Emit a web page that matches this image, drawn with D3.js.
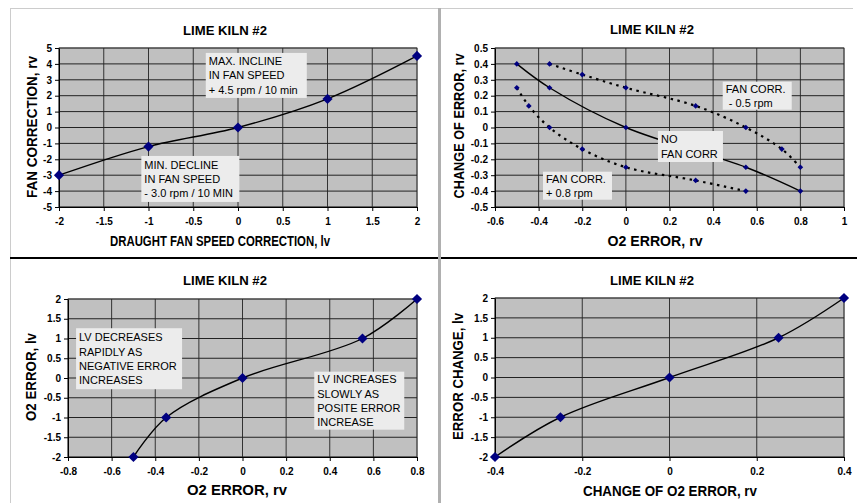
<!DOCTYPE html>
<html>
<head>
<meta charset="utf-8">
<script src="https://cdn.jsdelivr.net/npm/d3@7"></script>
<style>
  body { margin: 0; background: #fff; }
  svg { display: block; font-family: "Liberation Sans", Arial, sans-serif; }
</style>
</head>
<body>
<svg id="chart" width="857" height="503"></svg>
<script>
// ---- data ----
// panel 1: fan correction vs draught fan speed correction
const fanSpeedLv = [-2, -1, 0, 1, 2];
const fanCorrRv = [-3, -1.2, 0, 1.8, 4.5];

// panel 2: change of error vs O2 error
const noCorrO2 = [-0.5, -0.35, 0, 0.55, 0.8];
const noCorrChange = [0.4, 0.25, 0, -0.25, -0.4];
const minusCorrO2 = [-0.35, -0.2, 0, 0.32, 0.55, 0.715, 0.8];
const minusCorrChange = [0.4, 0.333, 0.25, 0.136, 0, -0.136, -0.25];
const plusCorrO2 = [-0.5, -0.445, -0.35, -0.2, 0, 0.32, 0.55];
const plusCorrChange = [0.25, 0.136, 0, -0.136, -0.25, -0.333, -0.4];

// panel 3: O2 error lv vs rv
const o2ErrRv = [-0.5, -0.35, 0, 0.55, 0.8];
const o2ErrLv = [-2, -1, 0, 1, 2];

// panel 4: error change lv vs change of O2 error rv
const o2ChangeRv = [-0.4, -0.25, 0, 0.25, 0.4];
const errChangeLv = [-2, -1, 0, 1, 2];

// tick values
const ticksFanX = [-2, -1.5, -1, -0.5, 0, 0.5, 1, 1.5, 2];
const ticksFanY = [-5, -4, -3, -2, -1, 0, 1, 2, 3, 4, 5];
const ticksO2X = [-0.6, -0.4, -0.2, 0, 0.2, 0.4, 0.6, 0.8, 1];
const ticksChangeY = [-0.5, -0.4, -0.3, -0.2, -0.1, 0, 0.1, 0.2, 0.3, 0.4, 0.5];
const ticksO2LvX = [-0.8, -0.6, -0.4, -0.2, 0, 0.2, 0.4, 0.6, 0.8];
const ticksLvY = [-2, -1.5, -1, -0.5, 0, 0.5, 1, 1.5, 2];
const ticksChangeX = [-0.4, -0.2, 0, 0.2, 0.4];

const svg = d3.select("#chart");

// sheet frame lines
svg.append("line").attr("x1", 10).attr("x2", 853).attr("y1", 8.5).attr("y2", 8.5)
  .attr("stroke", "#cccccc");
svg.append("line").attr("x1", 10.5).attr("x2", 10.5).attr("y1", 8).attr("y2", 503)
  .attr("stroke", "#cccccc");
svg.append("line").attr("x1", 10).attr("x2", 857).attr("y1", 258).attr("y2", 258)
  .attr("stroke", "#000").attr("stroke-width", 2);
svg.append("line").attr("x1", 439.5).attr("x2", 439.5).attr("y1", 8).attr("y2", 503)
  .attr("stroke", "#b0b0b0").attr("stroke-width", 3);

const zip = (xs, ys) => xs.map((v, i) => [v, ys[i]]);

const panels = [
  {
    left: 59, right: 417, top: 48, bottom: 207,
    xDomain: [-2, 2], yDomain: [-5, 5], xTicks: ticksFanX, yTicks: ticksFanY,
    title: { x: 225, y: 30 },
    xLabel: { text: "DRAUGHT FAN SPEED CORRECTION, lv", x: 220, y: 240.5, len: 220 },
    yLabel: { text: "FAN CORRECTION, rv", x: 31.5, y: 127, len: 142 },
    series: [{ pts: zip(fanSpeedLv, fanCorrRv), marker: 52 }],
    notes: [
      { lines: ["MAX. INCLINE", "IN FAN SPEED", "+ 4.5 rpm / 10 min"], x: -0.36, y: 4.69, w: 101, h: 45 },
      { lines: ["MIN. DECLINE", "IN FAN SPEED", "- 3.0 rpm / 10 MIN"], x: -1.08, y: -1.79, w: 98, h: 46 }
    ]
  },
  {
    left: 495, right: 844, top: 48, bottom: 207,
    xDomain: [-0.6, 1], yDomain: [-0.5, 0.5], xTicks: ticksO2X, yTicks: ticksChangeY,
    title: { x: 652, y: 29.5 },
    xLabel: { text: "O2 ERROR, rv", x: 655, y: 240.5, len: 95 },
    yLabel: { text: "CHANGE OF ERROR, rv", x: 459, y: 126, len: 145 },
    series: [
      { pts: zip(noCorrO2, noCorrChange), marker: 16 },
      { pts: zip(minusCorrO2, minusCorrChange), marker: 16, dash: "2.5,4.5" },
      { pts: zip(plusCorrO2, plusCorrChange), marker: 16, dash: "2.5,4.5" }
    ],
    notes: [
      { lines: ["FAN CORR.", " - 0.5 rpm"], x: 0.444, y: 0.288, w: 69, h: 28 },
      { lines: ["NO", "FAN CORR"], x: 0.147, y: -0.022, w: 65, h: 31 },
      { lines: ["FAN CORR.", "+ 0.8 rpm"], x: -0.38, y: -0.278, w: 69, h: 28 }
    ]
  },
  {
    left: 68, right: 417, top: 299, bottom: 457,
    xDomain: [-0.8, 0.8], yDomain: [-2, 2], xTicks: ticksO2LvX, yTicks: ticksLvY,
    title: { x: 225, y: 280 },
    xLabel: { text: "O2 ERROR, rv", x: 237, y: 490, len: 100 },
    yLabel: { text: "O2 ERROR, lv", x: 31, y: 377, len: 88 },
    series: [{ pts: zip(o2ErrRv, o2ErrLv), marker: 52 }],
    notes: [
      { lines: ["LV DECREASES", "RAPIDLY AS", "NEGATIVE ERROR", "INCREASES"], x: -0.763, y: 1.26, w: 106, h: 61 },
      { lines: ["LV INCREASES", "SLOWLY AS", "POSITE ERROR", "INCREASE"], x: 0.329, y: 0.16, w: 90, h: 58 }
    ]
  },
  {
    left: 495, right: 844, top: 298, bottom: 457,
    xDomain: [-0.4, 0.4], yDomain: [-2, 2], xTicks: ticksChangeX, yTicks: ticksLvY,
    title: { x: 652, y: 280 },
    xLabel: { text: "CHANGE OF O2 ERROR, rv", x: 670, y: 491, len: 174 },
    yLabel: { text: "ERROR CHANGE, lv", x: 457.5, y: 376.5, len: 127 },
    series: [{ pts: zip(o2ChangeRv, errChangeLv), marker: 52 }],
    notes: []
  }
];

function drawPanel(p) {
  const x = d3.scaleLinear().domain(p.xDomain).range([p.left, p.right]);
  const y = d3.scaleLinear().domain(p.yDomain).range([p.bottom, p.top]);
  const g = svg.append("g");

  // plot area
  g.append("rect")
    .attr("x", p.left).attr("y", p.top)
    .attr("width", p.right - p.left).attr("height", p.bottom - p.top)
    .attr("fill", "#c0c0c0").attr("stroke", "#808080");

  // gridlines
  g.append("g").selectAll("line").data(p.xTicks).join("line")
    .attr("x1", d => x(d)).attr("x2", d => x(d))
    .attr("y1", p.top).attr("y2", p.bottom)
    .attr("stroke", "#333").attr("stroke-width", 1);
  g.append("g").selectAll("line").data(p.yTicks).join("line")
    .attr("x1", p.left).attr("x2", p.right)
    .attr("y1", d => y(d)).attr("y2", d => y(d))
    .attr("stroke", "#222").attr("stroke-width", 1);

  // axes
  const xAxis = g.append("g")
    .attr("transform", `translate(0, ${ p.bottom })`)
    .call(d3.axisBottom(x).tickValues(p.xTicks).tickFormat(String).tickSize(4).tickPadding(7).tickSizeOuter(0));
  const yAxis = g.append("g")
    .attr("transform", `translate(${ p.left }, 0)`)
    .call(d3.axisLeft(y).tickValues(p.yTicks).tickFormat(String).tickSize(4).tickPadding(3).tickSizeOuter(0));
  [xAxis, yAxis].forEach(a => {
    a.selectAll("text").attr("font-size", "10px").attr("font-weight", "bold")
      .attr("fill", "#000").attr("font-family", "'Liberation Sans', Arial, sans-serif");
    a.selectAll("line").attr("stroke", "#000");
    a.select(".domain").attr("stroke", "#000");
  });

  // series lines + markers
  const line = d3.line().x(d => x(d[0])).y(d => y(d[1])).curve(d3.curveCatmullRom.alpha(0.5));
  p.series.forEach(s => {
    g.append("path").datum(s.pts)
      .attr("d", line)
      .attr("fill", "none").attr("stroke", "#000")
      .attr("stroke-width", s.dash ? 2.2 : 1.4)
      .attr("stroke-dasharray", s.dash || null);
  });
  p.series.forEach(s => {
    g.append("g").selectAll("path").data(s.pts).join("path")
      .attr("d", d3.symbol(d3.symbolSquare, s.marker))
      .attr("transform", d => `translate(${ x(d[0]) }, ${ y(d[1]) }) rotate(45)`)
      .attr("fill", "#000080");
  });

  // annotation boxes
  const lh = 14.3;
  p.notes.forEach(n => {
    const bx = x(n.x), by = y(n.y);
    g.append("rect").attr("x", bx).attr("y", by).attr("width", n.w).attr("height", n.h)
      .attr("fill", "#ececec");
    const first = by + (n.h - (n.lines.length - 1) * lh) / 2;
    g.append("g").selectAll("text").data(n.lines).join("text")
      .attr("x", bx + 3)
      .attr("y", (d, i) => first + i * lh)
      .attr("dominant-baseline", "central")
      .attr("font-size", "11px")
      .style("white-space", "pre")
      .attr("fill", "#000")
      .text(d => d);
  });

  // title
  g.append("text")
    .attr("x", p.title.x).attr("y", p.title.y)
    .attr("text-anchor", "middle").attr("dominant-baseline", "central")
    .attr("font-size", "13px").attr("font-weight", "bold")
    .attr("textLength", 84).attr("lengthAdjust", "spacingAndGlyphs")
    .text("LIME KILN #2");

  // X axis label
  g.append("text")
    .attr("x", p.xLabel.x).attr("y", p.xLabel.y)
    .attr("text-anchor", "middle").attr("dominant-baseline", "central")
    .attr("font-size", "14px").attr("font-weight", "bold")
    .attr("textLength", p.xLabel.len).attr("lengthAdjust", "spacingAndGlyphs")
    .text(p.xLabel.text);

  // Y axis label
  g.append("text")
    .attr("transform", `translate(${ p.yLabel.x }, ${ p.yLabel.y }) rotate(-90)`)
    .attr("text-anchor", "middle").attr("dominant-baseline", "central")
    .attr("font-size", "14px").attr("font-weight", "bold")
    .attr("textLength", p.yLabel.len).attr("lengthAdjust", "spacingAndGlyphs")
    .text(p.yLabel.text);
}

panels.forEach(drawPanel);
</script>
</body>
</html>
